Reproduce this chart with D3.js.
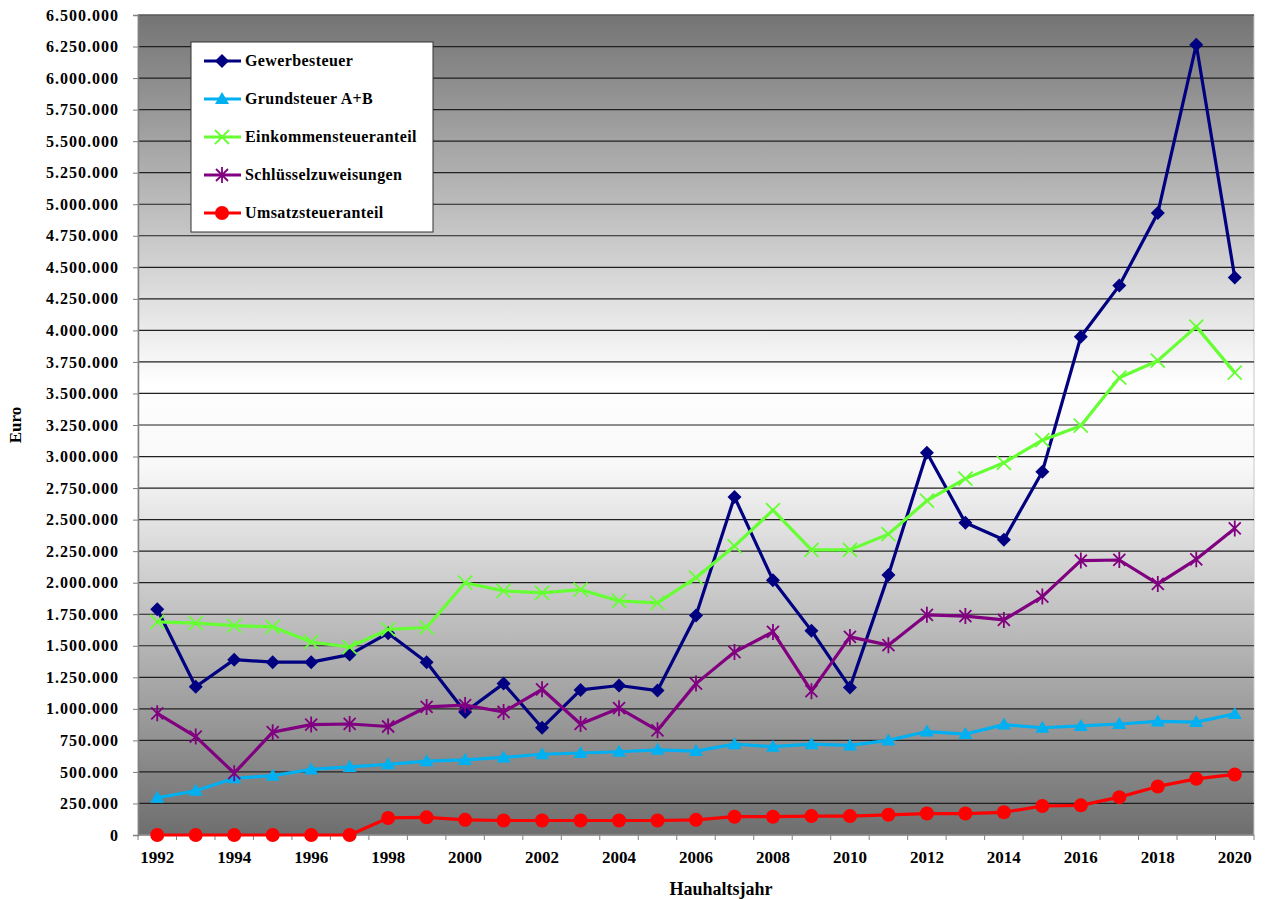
<!DOCTYPE html>
<html>
<head>
<meta charset="utf-8">
<script src="https://cdn.jsdelivr.net/npm/d3@7"></script>
<style>
  body { margin: 0; background: #fff; }
</style>
</head>
<body>
<script>
// Daten
const jahre = d3.range(1992, 2021)
const gewerbesteuer = [1790000, 1175000, 1390000, 1370000, 1370000, 1430000, 1600000, 1370000, 975000, 1200000,
  850000, 1150000, 1185000, 1145000, 1740000, 2680000, 2020000, 1620000, 1170000, 2060000,
  3030000, 2475000, 2340000, 2880000, 3950000, 4355000, 4930000, 6265000, 4420000]
const grundsteuer = [295000, 350000, 450000, 470000, 520000, 540000, 560000, 585000, 595000, 615000,
  640000, 650000, 660000, 675000, 665000, 720000, 700000, 720000, 710000, 750000,
  820000, 800000, 875000, 850000, 865000, 880000, 900000, 895000, 960000]
const einkommensteuer = [1690000, 1680000, 1660000, 1650000, 1530000, 1490000, 1630000, 1645000, 2000000, 1935000,
  1920000, 1945000, 1855000, 1840000, 2040000, 2290000, 2575000, 2260000, 2260000, 2385000,
  2650000, 2825000, 2950000, 3130000, 3245000, 3625000, 3760000, 4030000, 3665000]
const schluessel = [965000, 780000, 490000, 815000, 875000, 880000, 860000, 1015000, 1030000, 975000,
  1155000, 880000, 1005000, 830000, 1200000, 1450000, 1610000, 1140000, 1570000, 1505000,
  1745000, 1735000, 1705000, 1890000, 2175000, 2180000, 1990000, 2185000, 2430000]
const umsatzsteuer = [0, 0, 0, 0, 0, 0, 135000, 140000, 120000, 115000,
  115000, 115000, 115000, 115000, 120000, 145000, 145000, 150000, 150000, 160000,
  170000, 170000, 180000, 230000, 235000, 300000, 385000, 445000, 480000]
const yTicks = d3.range(0, 6500001, 250000)

const reihen = [
  { name: "Gewerbesteuer", werte: gewerbesteuer, farbe: "#000080", symbol: "diamond" },
  { name: "Grundsteuer A+B", werte: grundsteuer, farbe: "#00b0f0", symbol: "triangle" },
  { name: "Einkommensteueranteil", werte: einkommensteuer, farbe: "#66ff33", symbol: "x" },
  { name: "Schlüsselzuweisungen", werte: schluessel, farbe: "#800080", symbol: "star" },
  { name: "Umsatzsteueranteil", werte: umsatzsteuer, farbe: "#ff0000", symbol: "circle" }
]

const schrift = '"Liberation Serif", "Times New Roman", "DejaVu Serif", serif'
const breite = 1265, hoehe = 899
const links = 138, rechts = 1254, oben = 15, unten = 835

const svg = d3.select("body").append("svg")
  .attr("width", breite)
  .attr("height", hoehe)

// Hintergrundverlauf
const defs = svg.append("defs")
const verlauf = defs.append("linearGradient").attr("id", "bg")
  .attr("x1", 0).attr("y1", 0).attr("x2", 0).attr("y2", 1)
verlauf.append("stop").attr("offset", "0%").attr("stop-color", "#747474")
verlauf.append("stop").attr("offset", "45%").attr("stop-color", "#ffffff")
verlauf.append("stop").attr("offset", "55%").attr("stop-color", "#f8f8f8")
verlauf.append("stop").attr("offset", "100%").attr("stop-color", "#6e6e6e")

svg.append("rect")
  .attr("x", links).attr("y", oben)
  .attr("width", rechts - links).attr("height", unten - oben)
  .attr("fill", "url(#bg)")
  .attr("stroke", "#c8c8c8")

const x = d3.scaleBand().domain(jahre).range([links, rechts])
const y = d3.scaleLinear().domain([0, 6500000]).range([unten, oben])
const fmt = d => d3.format(",")(d).replace(/,/g, ".")

// Gitterlinien
svg.append("g").selectAll("line")
  .data(yTicks.filter(d => d > 0))
  .enter().append("line")
  .attr("x1", links).attr("x2", rechts)
  .attr("y1", d => y(d)).attr("y2", d => y(d))
  .attr("stroke", "#202020")
  .attr("stroke-width", 1.2)

// Y-Achse
const yAchse = svg.append("g")
  .attr("transform", `translate(${links},0)`)
  .call(d3.axisLeft(y).tickValues(yTicks).tickFormat(fmt).tickSize(5).tickPadding(14))
yAchse.select(".domain").attr("stroke", "#808080").attr("stroke-width", 1.5)
yAchse.selectAll(".tick line").attr("stroke", "#808080")
yAchse.selectAll("text")
  .style("font-family", schrift).style("font-weight", "bold")
  .style("font-size", "16px").style("letter-spacing", "1px")
  .attr("fill", "#000")

// X-Achse
const xAchse = svg.append("g").attr("transform", `translate(0,${unten})`)
xAchse.append("line").attr("x1", links).attr("x2", rechts)
  .attr("stroke", "#808080").attr("stroke-width", 1.5)
xAchse.selectAll(".tick")
  .data(jahre.concat([2021]))
  .enter().append("line")
  .attr("x1", d => d === 2021 ? rechts : x(d)).attr("x2", d => d === 2021 ? rechts : x(d))
  .attr("y1", 0).attr("y2", 5)
  .attr("stroke", "#808080")
xAchse.selectAll("text")
  .data(jahre.filter(d => d % 2 === 0))
  .enter().append("text")
  .attr("x", d => x(d) + x.bandwidth() / 2)
  .attr("y", 28)
  .attr("text-anchor", "middle")
  .style("font-family", schrift).style("font-weight", "bold")
  .style("font-size", "17px")
  .text(d => d)

// Achsentitel
svg.append("text")
  .attr("transform", `translate(21,${(oben + unten) / 2}) rotate(-90)`)
  .attr("text-anchor", "middle")
  .style("font-family", schrift).style("font-weight", "bold")
  .style("font-size", "17px")
  .text("Euro")
svg.append("text")
  .attr("x", (links + rechts) / 2 + 25)
  .attr("y", 895)
  .attr("text-anchor", "middle")
  .style("font-family", schrift).style("font-weight", "bold")
  .style("font-size", "18px")
  .text("Hauhaltsjahr")

// Symbole
function zeichneSymbol(g, typ, farbe) {
  if (typ === "diamond") {
    g.append("path").attr("d", "M0,-7L7,0L0,7L-7,0Z").attr("fill", farbe)
  } else if (typ === "triangle") {
    g.append("path").attr("d", "M0,-7L7,5L-7,5Z").attr("fill", farbe)
  } else if (typ === "x") {
    g.append("path").attr("d", "M-7,-7L7,7M-7,7L7,-7").attr("stroke", farbe).attr("stroke-width", 1.8)
  } else if (typ === "star") {
    g.append("path").attr("d", "M-6,-6L6,6M-6,6L6,-6M0,-8L0,8").attr("stroke", farbe).attr("stroke-width", 1.8)
  } else if (typ === "circle") {
    g.append("circle").attr("r", 7).attr("fill", farbe)
  }
}

const linie = d3.line()
  .x((d, i) => x(jahre[i]) + x.bandwidth() / 2)
  .y(d => y(d))

reihen.forEach(r => {
  const g = svg.append("g")
  g.append("path")
    .datum(r.werte)
    .attr("d", linie)
    .attr("fill", "none")
    .attr("stroke", r.farbe)
    .attr("stroke-width", 3.2)
    .attr("stroke-linejoin", "round")
  g.selectAll("g.m")
    .data(r.werte)
    .enter().append("g")
    .attr("class", "m")
    .attr("transform", (d, i) => `translate(${x(jahre[i]) + x.bandwidth() / 2},${y(d)})`)
    .each(function() { zeichneSymbol(d3.select(this), r.symbol, r.farbe) })
})

// Legende
const legende = svg.append("g").attr("transform", "translate(191,42)")
legende.append("rect")
  .attr("width", 242).attr("height", 190)
  .attr("fill", "#fff").attr("stroke", "#333").attr("stroke-width", 1)
reihen.forEach((r, i) => {
  const zeile = legende.append("g").attr("transform", `translate(0,${19 + i * 38})`)
  zeile.append("line").attr("x1", 13).attr("x2", 50)
    .attr("stroke", r.farbe).attr("stroke-width", 3.2)
  const m = zeile.append("g").attr("transform", "translate(31,0)")
  zeichneSymbol(m, r.symbol, r.farbe)
  zeile.append("text").attr("x", 54).attr("y", 5)
    .style("font-family", schrift).style("font-weight", "bold")
    .style("font-size", "16px").style("letter-spacing", "0.4px")
    .text(r.name)
})
</script>
</body>
</html>
